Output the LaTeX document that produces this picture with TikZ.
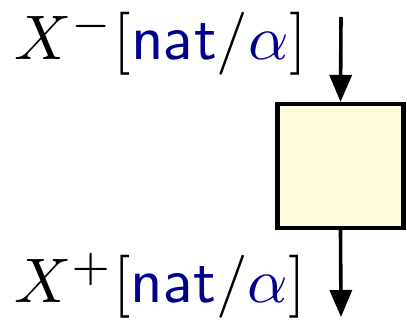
\documentclass[tikz,border=0pt]{standalone}
\usetikzlibrary{arrows.meta}
\definecolor{boxfill}{RGB}{255,253,222}
\definecolor{natblue}{RGB}{0,0,140}
\newcommand{\natlab}[1]{$X^{#1}[{\color{natblue}\mathsf{nat}}/{\color{natblue}\alpha}]$}

\begin{document}
\begin{tikzpicture}[
  x=1pt,y=-1pt,
  proc/.style={
    draw,
    line width=4.2pt,
    fill=boxfill,
    minimum width=126pt,
    minimum height=124pt,
    inner sep=0pt
  },
  flow/.style={line width=3.6pt,-{Triangle[length=27pt,width=22pt]}},
  lab/.style={anchor=base west,inner sep=0pt,scale=6.3}
]
  \useasboundingbox (0,0) rectangle (407,320);
  \node[proc] (box) at (340.5,166) {};
  \coordinate (in) at (341,17);
  \coordinate (out) at (341,317);
  \draw[flow] (in) -- (box.north);
  \draw[flow] (box.south) -- (out);
  \node[lab] (minus) at (13,60) {\natlab{-}};
  \node[lab] (plus) at (13,303) {\natlab{+}};
\end{tikzpicture}
\end{document}
